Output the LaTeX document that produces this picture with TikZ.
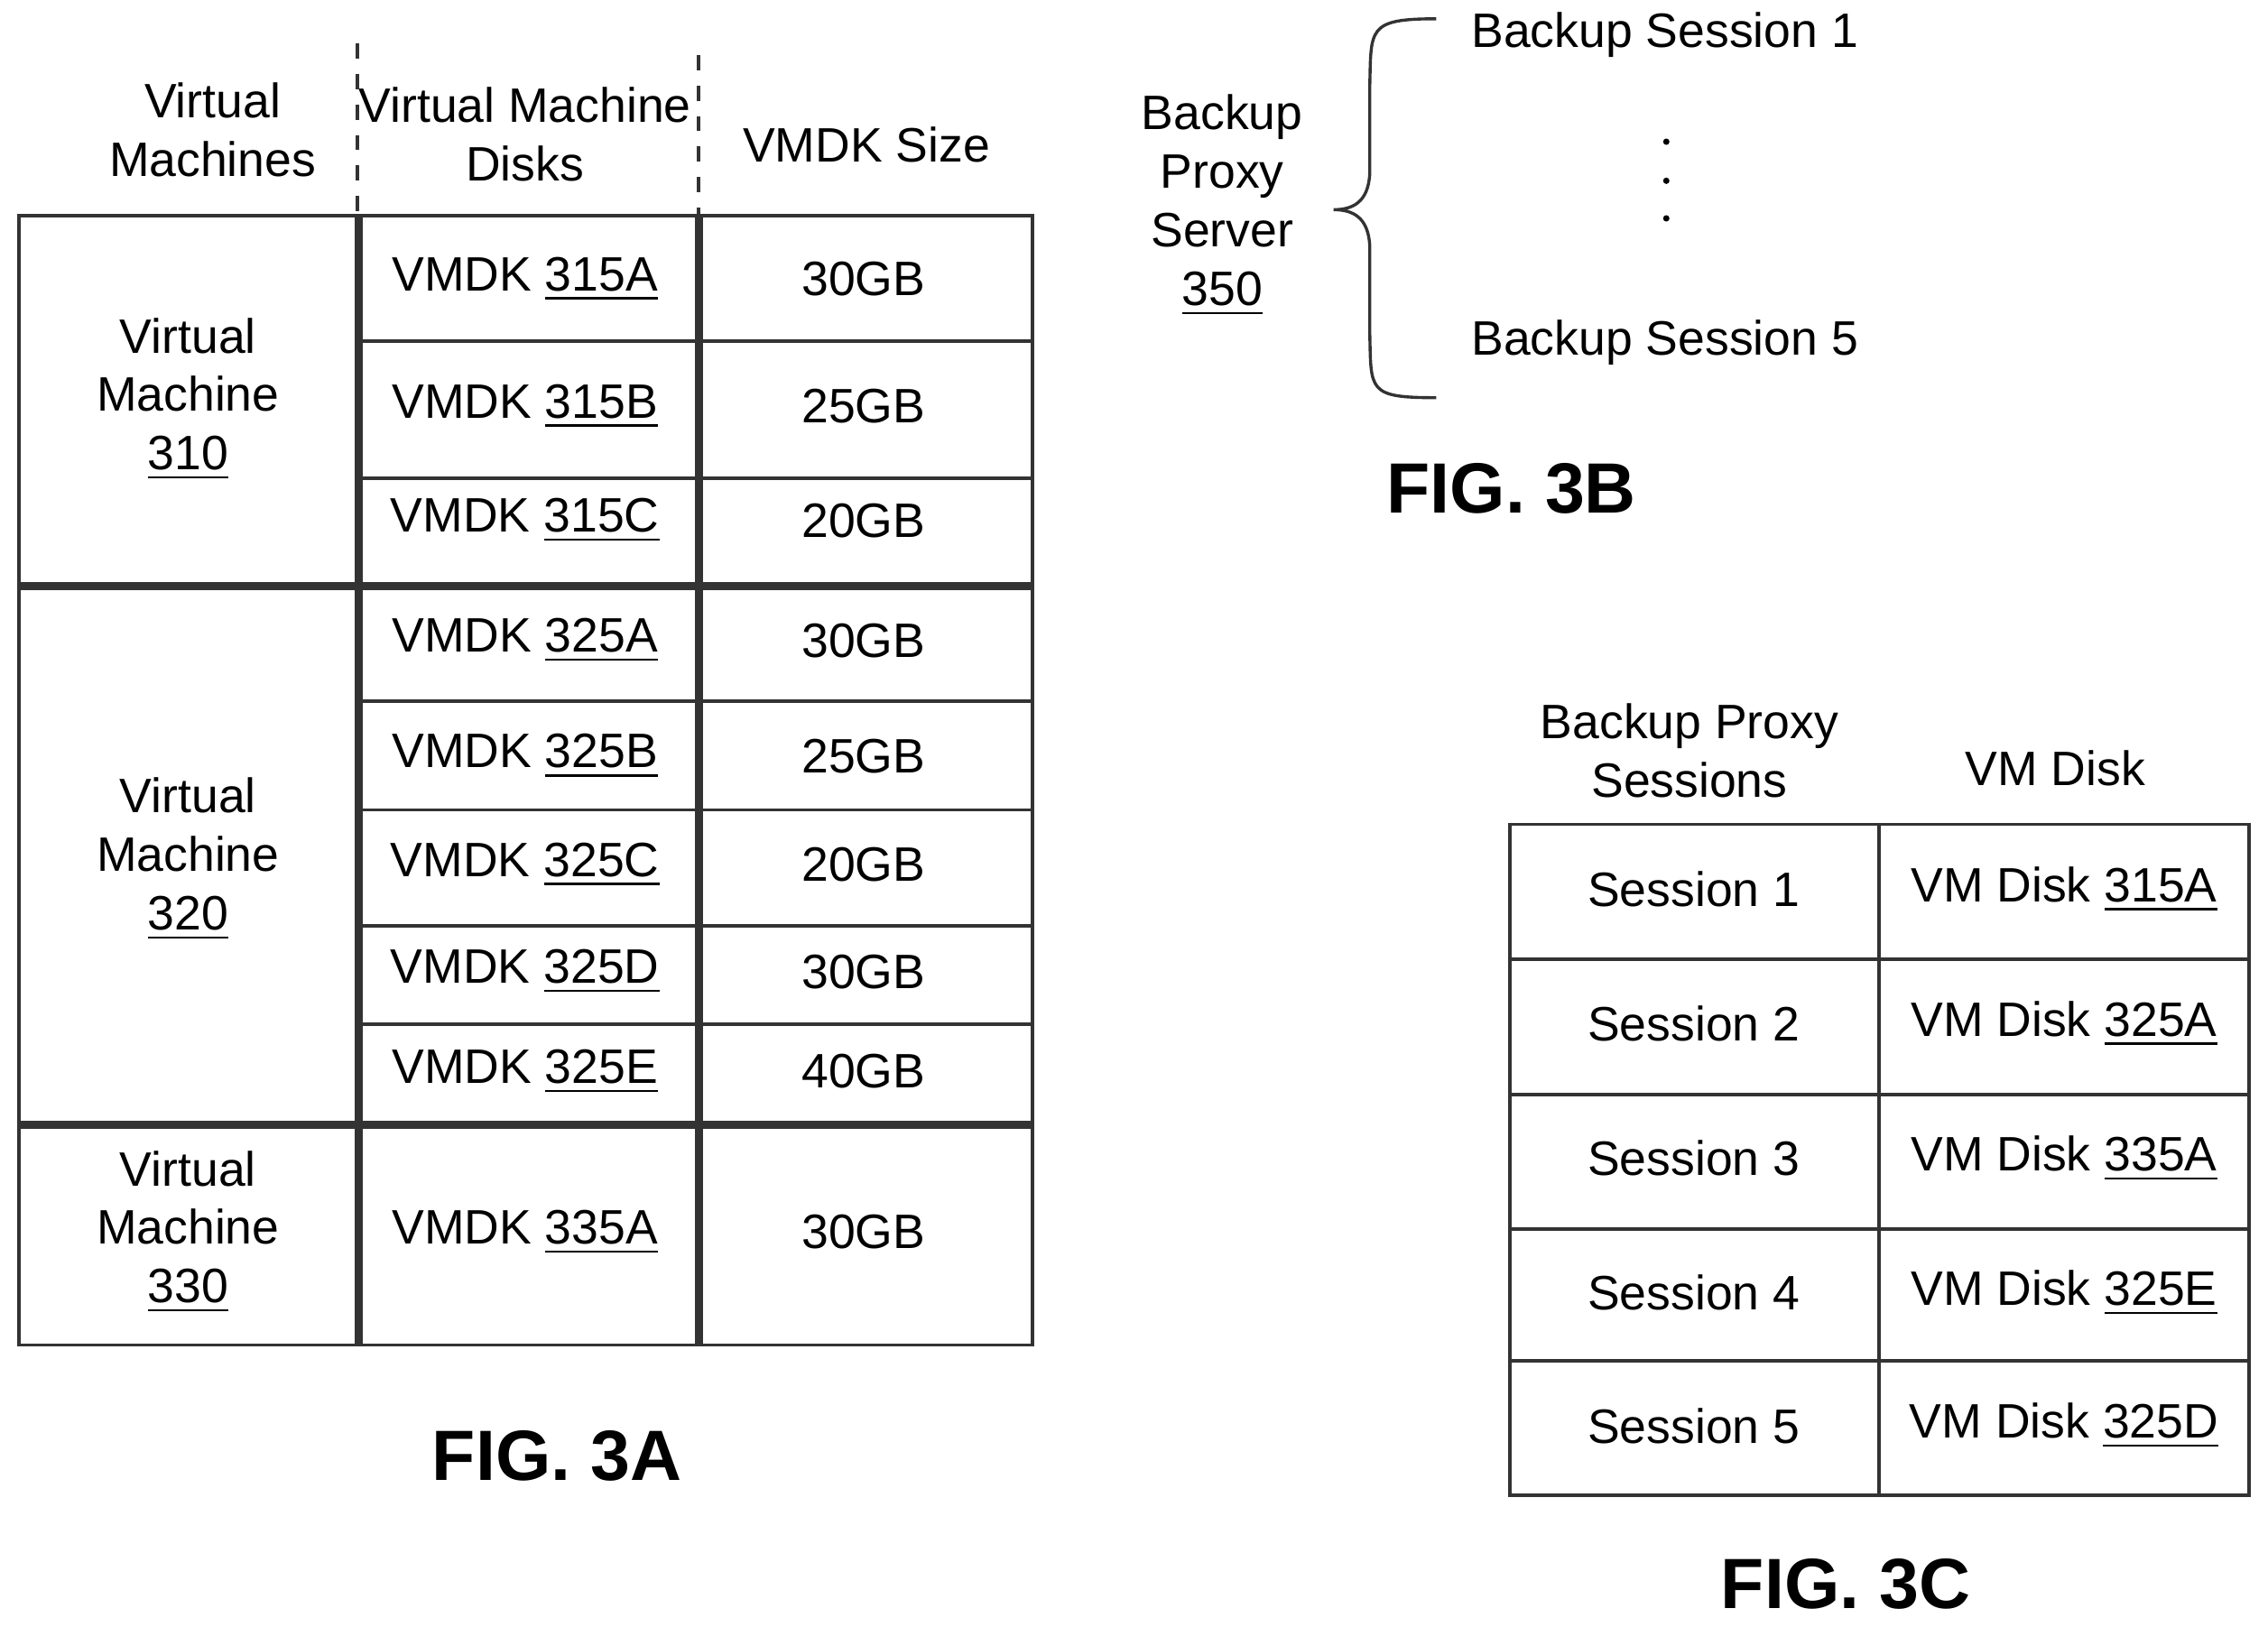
\documentclass[tikz,border=0pt]{standalone}
\usepackage{fontspec}
\setmainfont{Liberation Sans}
\usetikzlibrary{positioning,decorations.pathreplacing}
\tikzset{
  cell/.style={font=\fontsize{9.5}{11.5}\selectfont,align=center},
  figlab/.style={font=\fontsize{14}{16}\selectfont\bfseries},
  grid/.style={line width=0.7pt,draw=black!80},
  heavy/.style={line width=1.6pt,draw=black!80},
}
\newcommand{\refn}[1]{\underline{#1}}
\begin{document}
\begin{tikzpicture}[x=0.01cm,y=-0.01cm]
      \useasboundingbox (0,0) rectangle (1568,1125);

      % FIG. 3A table
      \node[cell] (hvm) at (147,90) {Virtual\\Machines};
      \node[cell] (hdisk) at (363,93) {Virtual Machine\\Disks};
      \node[cell] (hsize) at (599,100) {VMDK Size};
      \draw[grid,dashed] (247,30) -- (247,149);
      \draw[grid,dashed] (483,38) -- (483,149);

      \draw[grid] (13,149) rectangle (714,930);
      \foreach \y in {236,331,485,560,640,708}
        \draw[grid] (248,\y) -- (714,\y);
      \foreach \y in {405,778}
        \draw[heavy] (13,\y) -- (714,\y);
      \draw[heavy] (248,149) -- (248,930);
      \draw[heavy] (483,149) -- (483,930);

      \node[cell] (vm1) at (130,276) {Virtual\\Machine\\\refn{310}};
      \node[cell] (vm2) at (130,594) {Virtual\\Machine\\\refn{320}};
      \node[cell] (vm3) at (130,852) {Virtual\\Machine\\\refn{330}};

      \foreach \n/\d/\s/\y in {a/315A/30/193,b/315B/25/281,c/315C/20/360,
          d/325A/30/443,e/325B/25/523,f/325C/20/598,g/325D/30/672,h/325E/40/741,i/335A/30/852}{
        \node[cell] (disk\n) at (363,\y) {VMDK \refn{\d}};
        \node[cell] (size\n) at (597,\y) {\s GB};
      }
      \node[figlab] (figa) at (385,1007) {FIG. 3A};

      % FIG. 3B
      \node[cell] (proxy) at (845,142) {Backup\\Proxy\\Server\\\refn{350}};
      \draw[grid,line width=0.6pt] (993,13) .. controls (945,13) and (948,20) .. (947,60)
        -- (947,120) .. controls (946,140) and (935,145) .. (922,145)
        .. controls (935,145) and (946,150) .. (947,170)
        -- (947,230) .. controls (948,270) and (945,275) .. (993,275);
      \node[cell] (sess1) at (1151,24) {Backup Session 1};
      \node[cell] (sess5) at (1151,237) {Backup Session 5};
      \foreach \y in {98,125,151}
        \fill (1152,\y) circle (2.2);
      \node[figlab] (figb) at (1045,338) {FIG. 3B};

      % FIG. 3C table
      \node[cell] (hsess) at (1168,519) {Backup Proxy\\Sessions};
      \node[cell] (hvmd) at (1421,531) {VM Disk};
      \draw[grid] (1044,570) rectangle (1555,1034);
      \draw[grid] (1299,570) -- (1299,1034);
      \foreach \y in {663,757,850,941}
        \draw[grid] (1044,\y) -- (1555,\y);
      \foreach \k/\d/\y in {1/315A/615,2/325A/708,3/335A/801,4/325E/894,5/325D/986}{
        \node[cell] (s\k) at (1171,\y) {Session \k};
        \node[cell] (v\k) at (1427,\y) {VM Disk \refn{\d}};
      }
      \node[figlab] (figc) at (1276,1095) {FIG. 3C};
\end{tikzpicture}
\end{document}
